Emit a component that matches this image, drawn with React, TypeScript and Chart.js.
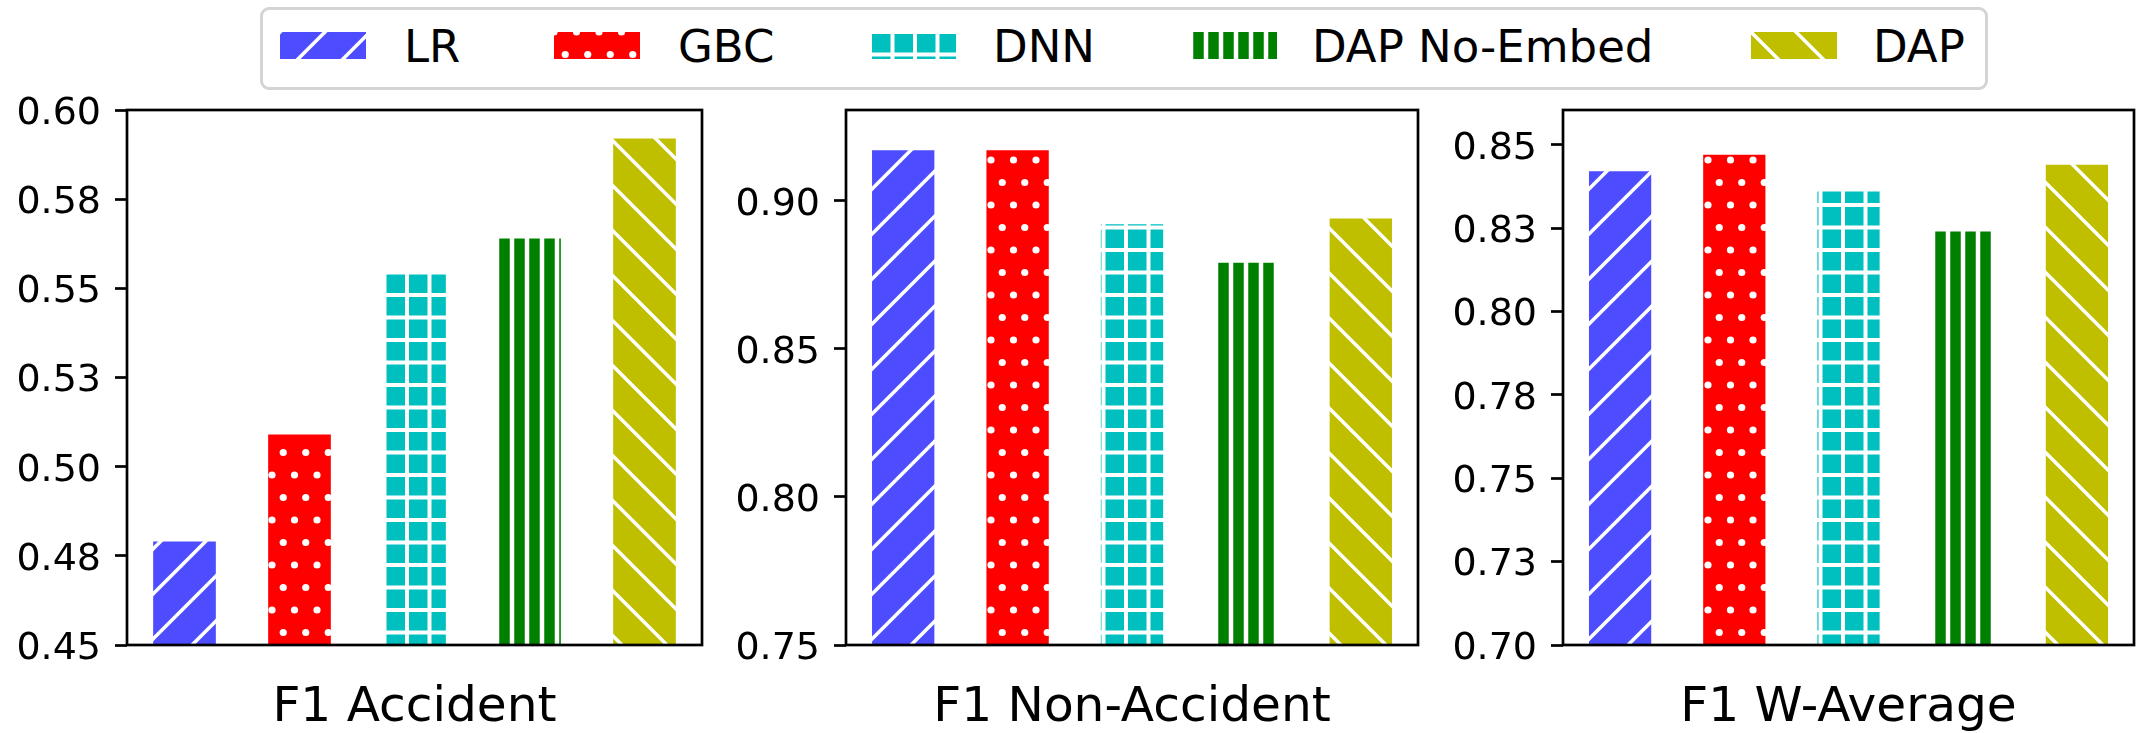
import React, { useEffect, useRef } from "react";
import { Chart, registerables } from "chart.js";

Chart.register(...registerables);

// ---------- data ----------
const models = ["LR", "GBC", "DNN", "DAP No-Embed", "DAP"];
const modelColors = ["#4d4dff", "#ff0000", "#00bfbf", "#008000", "#bfbf00"];
const modelHatches = ["/", "..", "++", "|||", "\\"];

const panelTitles = ["F1 Accident", "F1 Non-Accident", "F1 W-Average"];

const f1Accident = [0.479, 0.509, 0.554, 0.564, 0.592];
const f1NonAccident = [0.917, 0.917, 0.892, 0.879, 0.894];
const f1WAverage = [0.842, 0.847, 0.836, 0.824, 0.844];

const accidentTicks = [0.45, 0.475, 0.5, 0.525, 0.55, 0.575, 0.6];
const accidentTickLabels = ["0.45", "0.48", "0.50", "0.53", "0.55", "0.58", "0.60"];
const accidentRange = [0.45, 0.6];

const nonAccidentTicks = [0.75, 0.8, 0.85, 0.9];
const nonAccidentTickLabels = ["0.75", "0.80", "0.85", "0.90"];
const nonAccidentRange = [0.75, 0.9306];

const wAverageTicks = [0.7, 0.725, 0.75, 0.775, 0.8, 0.825, 0.85];
const wAverageTickLabels = ["0.70", "0.73", "0.75", "0.78", "0.80", "0.83", "0.85"];
const wAverageRange = [0.7, 0.8604];

// ---------- layout ----------
const FONT = "'DejaVu Sans', sans-serif";
const PAD_TOP = 40;
const CANVAS_TOP = 110 - PAD_TOP;
const CANVAS_H = 733 - CANVAS_TOP;
const Y_AXIS_W = 125;
const X_AXIS_H = 733 - 645;
const PANEL_LEFT = [127, 846, 1563];
const PANEL_W = [575, 572, 571];

const LEGEND_SWATCH_X = [280, 554, 870, 1191, 1751];
const LEGEND_TEXT_X = [404, 678, 993, 1312, 1873];

function makeHatch(kind: string, color: string): CanvasPattern {
  const S = 45;
  const c = document.createElement("canvas");
  c.width = S;
  c.height = S;
  const g = c.getContext("2d")!;
  g.fillStyle = color;
  g.fillRect(0, 0, S, S);
  g.strokeStyle = "#ffffff";
  g.fillStyle = "#ffffff";
  g.lineCap = "butt";
  if (kind === "/") {
    g.lineWidth = 3.5;
    for (const k of [-S, 0, S]) {
      g.beginPath();
      g.moveTo(k - 3, S + 3);
      g.lineTo(k + S + 3, -3);
      g.stroke();
    }
  } else if (kind === "\\") {
    g.lineWidth = 3.5;
    for (const k of [-S, 0, S]) {
      g.beginPath();
      g.moveTo(k - 3, -3);
      g.lineTo(k + S + 3, S + 3);
      g.stroke();
    }
  } else if (kind === "..") {
    const h = S / 2;
    const pts = [
      [0, 0], [h, 0], [S, 0], [0, S], [h, S], [S, S],
      [h / 2, h], [h * 1.5, h],
    ];
    for (const [x, y] of pts) {
      g.beginPath();
      g.arc(x, y, 3.6, 0, Math.PI * 2);
      g.fill();
    }
  } else if (kind === "++") {
    g.lineWidth = 4;
    for (const v of [0, S / 2, S]) {
      g.beginPath();
      g.moveTo(v, 0);
      g.lineTo(v, S);
      g.stroke();
      g.beginPath();
      g.moveTo(0, v);
      g.lineTo(S, v);
      g.stroke();
    }
  } else if (kind === "|||") {
    g.lineWidth = 4.5;
    for (const v of [0, 15, 30, 45]) {
      g.beginPath();
      g.moveTo(v, 0);
      g.lineTo(v, S);
      g.stroke();
    }
  }
  return g.createPattern(c, "repeat")!;
}

const frameBox = {
  id: "frameBox",
  afterDatasetsDraw(chart: any) {
    const { ctx, chartArea: a } = chart;
    ctx.save();
    ctx.strokeStyle = "#000000";
    ctx.lineWidth = 2.7;
    ctx.strokeRect(a.left, a.top, a.right - a.left, a.bottom - a.top);
    ctx.restore();
  },
};

type PanelProps = {
  title: string;
  values: number[];
  ticks: number[];
  tickLabels: string[];
  range: number[];
  plotLeft: number;
  plotWidth: number;
};

function Panel({ title, values, ticks, tickLabels, range, plotLeft, plotWidth }: PanelProps) {
  const ref = useRef<HTMLCanvasElement>(null);
  const width = Y_AXIS_W + plotWidth + 3;
  const left = plotLeft - Y_AXIS_W;
  useEffect(() => {
    const patterns = models.map((_, i) => makeHatch(modelHatches[i], modelColors[i]));
    const chart = new Chart(ref.current!, {
      type: "bar",
      data: {
        labels: models,
        datasets: [
          {
            data: values,
            backgroundColor: patterns as any,
            borderWidth: 0,
            barPercentage: 0.545,
            categoryPercentage: 1,
          },
        ],
      },
      options: {
        animation: false,
        responsive: false,
        devicePixelRatio: 1,
        layout: { padding: { top: PAD_TOP, right: 3, left: 0, bottom: 0 } },
        plugins: { legend: { display: false }, tooltip: { enabled: false } },
        scales: {
          x: {
            ticks: { display: false },
            grid: { display: false },
            border: { display: false },
            title: {
              display: true,
              text: title,
              color: "#000000",
              font: { family: FONT, size: 48.6, lineHeight: 1 },
              padding: 0,
            },
            afterFit: (s: any) => {
              s.height = X_AXIS_H;
            },
          },
          y: {
            min: range[0],
            max: range[1],
            afterBuildTicks: (s: any) => {
              s.ticks = ticks.map((v) => ({ value: v }));
            },
            ticks: {
              callback: (_v: any, i: number) => tickLabels[i],
              color: "#000000",
              font: { family: FONT, size: 38 },
              padding: 14,
              labelOffset: 4,
              autoSkip: false,
            },
            grid: {
              drawOnChartArea: false,
              drawTicks: true,
              tickLength: 12,
              tickWidth: 2.7,
              tickColor: "#000000",
            },
            border: { display: false },
            afterFit: (s: any) => {
              s.width = Y_AXIS_W;
            },
          },
        },
      },
      plugins: [frameBox],
    });
    return () => chart.destroy();
  }, []);
  return (
    <canvas
      ref={ref}
      width={width}
      height={CANVAS_H}
      style={{ position: "absolute", left, top: CANVAS_TOP, width, height: CANVAS_H }}
    />
  );
}

function Swatch({ index }: { index: number }) {
  const ref = useRef<HTMLCanvasElement>(null);
  useEffect(() => {
    const g = ref.current!.getContext("2d")!;
    g.fillStyle = makeHatch(modelHatches[index], modelColors[index]);
    g.fillRect(0, 0, 86, 27);
  }, []);
  return (
    <canvas
      ref={ref}
      width={86}
      height={27}
      style={{ position: "absolute", left: LEGEND_SWATCH_X[index], top: 32, width: 86, height: 27 }}
    />
  );
}

function Legend() {
  return (
    <>
      <div
        style={{
          position: "absolute",
          left: 260,
          top: 7,
          width: 1728,
          height: 83,
          boxSizing: "border-box",
          border: "3px solid #d4d4d4",
          borderRadius: 9,
          background: "#ffffff",
        }}
      />
      {models.map((m, i) => (
        <React.Fragment key={m}>
          <Swatch index={i} />
          <div
            style={{
              position: "absolute",
              left: LEGEND_TEXT_X[i],
              top: 23.5,
              fontFamily: FONT,
              fontSize: 45,
              lineHeight: "45px",
              color: "#000000",
              whiteSpace: "nowrap",
            }}
          >
            {m}
          </div>
        </React.Fragment>
      ))}
    </>
  );
}

export default function App() {
  const panelValues = [f1Accident, f1NonAccident, f1WAverage];
  const panelTicks = [accidentTicks, nonAccidentTicks, wAverageTicks];
  const panelTickLabels = [accidentTickLabels, nonAccidentTickLabels, wAverageTickLabels];
  const panelRanges = [accidentRange, nonAccidentRange, wAverageRange];
  return (
    <div
      style={{
        position: "absolute",
        left: 0,
        top: 0,
        width: 2138,
        height: 733,
        overflow: "hidden",
        background: "#ffffff",
      }}
    >
      {panelTitles.map((t, i) => (
        <Panel
          key={t}
          title={t}
          values={panelValues[i]}
          ticks={panelTicks[i]}
          tickLabels={panelTickLabels[i]}
          range={panelRanges[i]}
          plotLeft={PANEL_LEFT[i]}
          plotWidth={PANEL_W[i]}
        />
      ))}
      <Legend />
    </div>
  );
}
